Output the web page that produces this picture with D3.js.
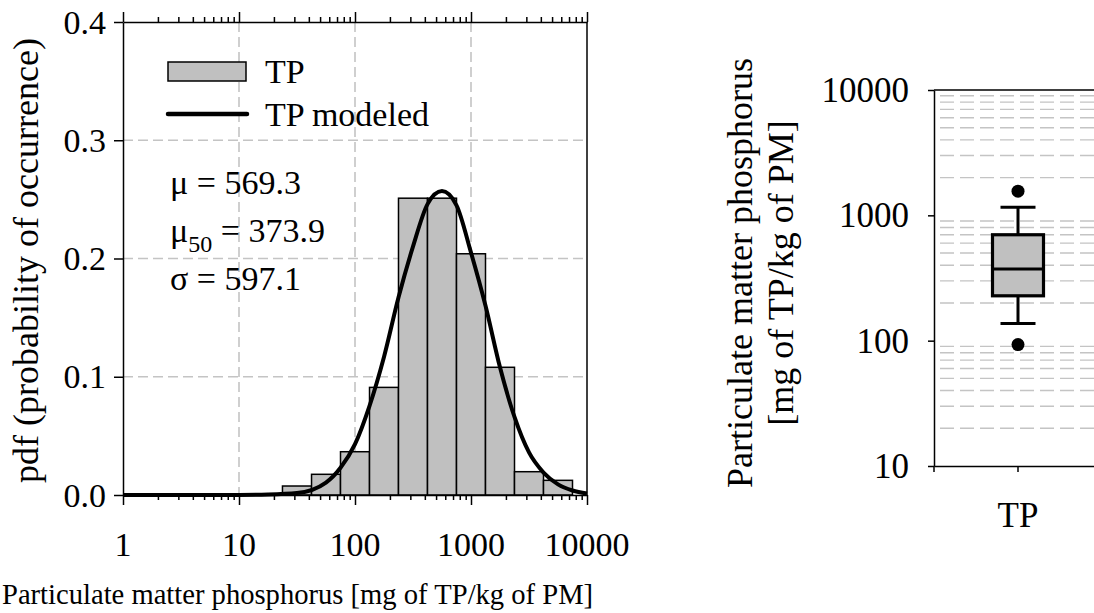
<!DOCTYPE html>
<html>
<head>
<meta charset="utf-8">
<script src="https://cdn.jsdelivr.net/npm/d3@7"></script>
<style>
  body { margin: 0; background: #fff; }
  svg text { font-family: "Liberation Serif", "Times New Roman", serif; fill: #000; }
</style>
</head>
<body>
<svg id="chart" width="1094" height="613"></svg>
<script>
// histogram bins (bin edges in mg/kg) and probability per bin
const binEdges = [23.7, 42.2, 75.0, 133.4, 237.1, 421.7, 749.9, 1333.5, 2371.4, 4217.0, 7498.9];
const binProb = [0.0076, 0.0175, 0.0366, 0.091, 0.251, 0.251, 0.204, 0.108, 0.0197, 0.0124];

// modeled curve
const curveX = [1, 3.16, 10, 17.8, 31.6, 56.2, 75, 100, 133, 178, 237, 316, 422, 562, 750, 1000, 1334, 1778, 2371, 3162, 4217, 5623, 7499, 10000];
const curveY = [0, 0, 0.0001, 0.0004, 0.0016, 0.0105, 0.023, 0.043, 0.075, 0.117, 0.167, 0.21, 0.246, 0.257, 0.245, 0.205, 0.16, 0.108, 0.066, 0.036, 0.019, 0.009, 0.0038, 0.0013];

const xTicks = [1, 10, 100, 1000, 10000];
const yTicks = [0.0, 0.1, 0.2, 0.3, 0.4];
const statLines = [["μ", "", " = 569.3"], ["μ", "50", " = 373.9"], ["σ", "", " = 597.1"]];
const legendItems = ["TP", "TP modeled"];

// box plot (right panel)
const boxCats = ["TP"];
const boxQ1 = [228];
const boxMed = [373.9];
const boxQ3 = [700];
const boxLo = [137];
const boxHi = [1160];
const boxOut = [[1560, 93]];
const logTicks = [10, 100, 1000, 10000];

const svg = d3.select("#chart");
const gridCol = "#c4c4c4";

// ---------- left panel ----------
const x = d3.scaleLog().domain([1, 10000]).range([123, 587]);
const y = d3.scaleLinear().domain([0, 0.4]).range([495, 22]);

const left = svg.append("g");

// gridlines
const grid = left.append("g").attr("stroke", gridCol).attr("stroke-width", 1.6).attr("stroke-dasharray", "10,5");
grid.selectAll(".vg").data([10, 100, 1000]).enter().append("line")
    .attr("x1", d => x(d)).attr("x2", d => x(d))
    .attr("y1", y(0.4)).attr("y2", y(0));
grid.selectAll(".hg").data([0.1, 0.2, 0.3]).enter().append("line")
    .attr("x1", x(1)).attr("x2", x(10000))
    .attr("y1", d => y(d)).attr("y2", d => y(d));

// bars
left.selectAll(".bar").data(binProb).enter().append("rect")
    .attr("x", (d, i) => x(binEdges[i]))
    .attr("width", (d, i) => x(binEdges[i + 1]) - x(binEdges[i]))
    .attr("y", d => y(d))
    .attr("height", d => y(0) - y(d))
    .attr("fill", "#c0c0c0").attr("stroke", "#000").attr("stroke-width", 1.5);

// modeled curve
const line = d3.line()
    .x(d => x(d[0])).y(d => y(d[1]))
    .curve(d3.curveMonotoneX);
left.append("path")
    .datum(curveX.map((v, i) => [v, curveY[i]]))
    .attr("d", line)
    .attr("fill", "none").attr("stroke", "#000").attr("stroke-width", 4);

// axes
const minorTicks = [];
for (let e = 0; e < 4; e++) for (let m = 1; m <= 9; m++) minorTicks.push(m * Math.pow(10, e));
minorTicks.push(10000);

const axes = left.append("g");
const xBottom = axes.append("g").attr("transform", `translate(0,${y(0)})`)
    .call(d3.axisBottom(x).tickValues(minorTicks).tickFormat("")
        .tickSize(5).tickSizeOuter(0));
xBottom.selectAll(".tick line").filter(d => xTicks.includes(d)).attr("y2", 10);

const xTop = axes.append("g").attr("transform", `translate(0,${y(0.4)})`)
    .call(d3.axisTop(x).tickValues(minorTicks).tickFormat("")
        .tickSize(5).tickSizeOuter(0));
xTop.selectAll(".tick line").filter(d => xTicks.includes(d)).attr("y2", -10);

axes.append("g").attr("transform", `translate(${x(1)},0)`)
    .call(d3.axisLeft(y).tickValues(yTicks).tickFormat("").tickSize(9).tickSizeOuter(0));
axes.append("line")
    .attr("x1", x(10000)).attr("x2", x(10000)).attr("y1", y(0.4)).attr("y2", y(0));

axes.selectAll(".domain, line").attr("stroke", "#000").attr("stroke-width", 1.5);

// tick labels
left.selectAll(".xl").data(xTicks).enter().append("text")
    .attr("x", d => x(d)).attr("y", 556)
    .attr("text-anchor", "middle").attr("font-size", 34)
    .text(d => d);
left.selectAll(".yl").data(yTicks).enter().append("text")
    .attr("x", 106).attr("y", d => y(d)).attr("dy", "0.34em")
    .attr("text-anchor", "end").attr("font-size", 34)
    .text(d => d.toFixed(1));

// axis titles
svg.append("text")
    .attr("x", 2).attr("y", 604).attr("font-size", 28.6)
    .text("Particulate matter phosphorus [mg of TP/kg of PM]");
svg.append("text")
    .attr("transform", `translate(38,${(y(0) + y(0.4)) / 2 + 2}) rotate(-90)`)
    .attr("text-anchor", "middle").attr("font-size", 36)
    .text("pdf (probability of occurrence)");

// legend
const lg = left.append("g");
lg.append("rect").attr("x", 168).attr("y", 62).attr("width", 78).attr("height", 19)
    .attr("fill", "#c0c0c0").attr("stroke", "#000").attr("stroke-width", 1.5);
lg.append("line").attr("x1", 168).attr("x2", 247).attr("y1", 114).attr("y2", 114)
    .attr("stroke", "#000").attr("stroke-width", 4.5).attr("stroke-linecap", "round");
lg.selectAll("text").data(legendItems).enter().append("text")
    .attr("x", 265).attr("y", (d, i) => 83 + i * 43)
    .attr("font-size", 34).text(d => d);

// stats
const st = left.selectAll(".st").data(statLines).enter().append("text")
    .attr("x", 170).attr("y", (d, i) => 194 + i * 48).attr("font-size", 34);
st.append("tspan").text(d => d[0]);
st.append("tspan").attr("font-size", 24).attr("dy", d => d[1] ? 10 : 0).text(d => d[1]);
st.append("tspan").attr("dy", d => d[1] ? -10 : 0).text(d => d[2]);

// ---------- right panel ----------
const bx = d3.scaleBand().domain(boxCats).range([934, 1102]);
const by = d3.scaleLog().domain([10, 10000]).range([466, 90]);
const right = svg.append("g");

const gridVals = [];
for (let e = 1; e < 4; e++) for (let m = 2; m <= 9; m++) gridVals.push(m * Math.pow(10, e));
right.selectAll(".rg").data(gridVals).enter().append("line")
    .attr("x1", 940).attr("x2", 1102)
    .attr("y1", d => by(d)).attr("y2", d => by(d))
    .attr("stroke", gridCol).attr("stroke-width", 1.4).attr("stroke-dasharray", "14,6");

const cx = bx("TP") + bx.bandwidth() / 2;
const bw = 51, cw = 35;
const box = right.append("g").attr("stroke", "#000").attr("stroke-width", 3);
// whiskers
box.append("line").attr("x1", cx).attr("x2", cx)
    .attr("y1", by(boxQ3[0])).attr("y2", by(boxHi[0]));
box.append("line").attr("x1", cx).attr("x2", cx)
    .attr("y1", by(boxQ1[0])).attr("y2", by(boxLo[0]));
box.append("line").attr("x1", cx - cw / 2).attr("x2", cx + cw / 2)
    .attr("y1", by(boxHi[0])).attr("y2", by(boxHi[0]));
box.append("line").attr("x1", cx - cw / 2).attr("x2", cx + cw / 2)
    .attr("y1", by(boxLo[0])).attr("y2", by(boxLo[0]));
box.append("rect")
    .attr("x", cx - bw / 2).attr("width", bw)
    .attr("y", by(boxQ3[0])).attr("height", by(boxQ1[0]) - by(boxQ3[0]))
    .attr("fill", "#c0c0c0").attr("stroke-width", 3.2);
box.append("line").attr("x1", cx - bw / 2).attr("x2", cx + bw / 2)
    .attr("y1", by(boxMed[0])).attr("y2", by(boxMed[0]));
right.selectAll(".out").data(boxOut[0]).enter().append("circle")
    .attr("cx", cx).attr("cy", d => by(d)).attr("r", 6.5).attr("fill", "#000");

// axes
const raxes = right.append("g");
raxes.append("g").attr("transform", "translate(934,0)")
    .call(d3.axisLeft(by).tickValues(logTicks).tickFormat("").tickSize(6).tickSizeOuter(0));
raxes.append("g").attr("transform", "translate(0,466)")
    .call(d3.axisBottom(bx).tickSize(6).tickSizeOuter(0).tickFormat(""));
raxes.append("line").attr("x1", 934).attr("x2", 1102).attr("y1", 90).attr("y2", 90);
raxes.append("line").attr("x1", 934).attr("x2", 934).attr("y1", 466).attr("y2", 472);
raxes.selectAll(".domain, line").attr("stroke", "#000").attr("stroke-width", 1.5);

right.selectAll(".ryl").data(logTicks).enter().append("text")
    .attr("x", 909).attr("y", d => by(d)).attr("dy", "0.34em")
    .attr("text-anchor", "end").attr("font-size", 35)
    .text(d => d);
right.append("text").attr("x", cx).attr("y", 527)
    .attr("text-anchor", "middle").attr("font-size", 35).text(boxCats[0]);

const rt = svg.append("text")
    .attr("transform", "translate(752,273) rotate(-90)")
    .attr("text-anchor", "middle").attr("font-size", 36);
rt.append("tspan").attr("x", 0).attr("dy", 0).text("Particulate matter phosphorus");
rt.append("tspan").attr("x", 0).attr("dy", 41).text("[mg of TP/kg of PM]");
</script>
</body>
</html>
